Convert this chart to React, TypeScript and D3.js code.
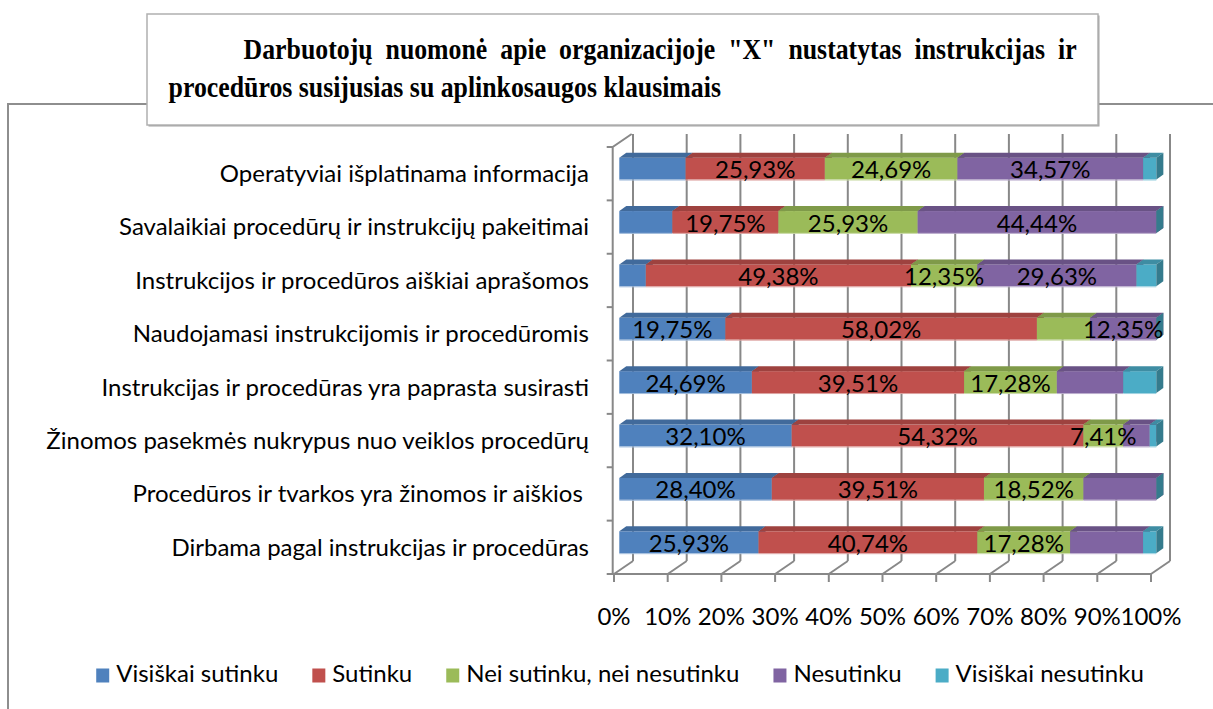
import * as d3 from "d3";
import React, { useRef, useEffect } from "react";

const categories = [
  "Operatyviai išplatinama informacija",
  "Savalaikiai procedūrų ir instrukcijų pakeitimai",
  "Instrukcijos ir procedūros aiškiai aprašomos",
  "Naudojamasi instrukcijomis ir procedūromis",
  "Instrukcijas ir procedūras yra paprasta susirasti",
  "Žinomos pasekmės nukrypus nuo veiklos procedūrų",
  "Procedūros ir tvarkos yra žinomos ir aiškios ",
  "Dirbama pagal instrukcijas ir procedūras",
];

const seriesNames = [
  "Visiškai sutinku",
  "Sutinku",
  "Nei sutinku, nei nesutinku",
  "Nesutinku",
  "Visiškai nesutinku",
];

// values in %, same order as categories
const visiskaiSutinku = [12.35, 9.88, 4.94, 19.75, 24.69, 32.1, 28.4, 25.93];
const sutinku = [25.93, 19.75, 49.38, 58.02, 39.51, 54.32, 39.51, 40.74];
const neiNei = [24.69, 25.93, 12.35, 9.88, 17.28, 7.41, 18.52, 17.28];
const nesutinku = [34.57, 44.44, 29.63, 12.35, 12.35, 4.94, 13.58, 13.58];
const visiskaiNesutinku = [2.47, 0, 3.7, 0, 6.17, 1.23, 0, 2.47];

// which series carry a data label in each row
const labelledSeries = [
  [1, 2, 3],
  [1, 2, 3],
  [1, 2, 3],
  [0, 1, 3],
  [0, 1, 2],
  [0, 1, 2],
  [0, 1, 2],
  [0, 1, 2],
];

const seriesColors = ["#4f81bd", "#c0504d", "#9bbb59", "#8064a2", "#4bacc6"];
const tickValues = [0, 10, 20, 30, 40, 50, 60, 70, 80, 90, 100];

const titleLine1 =
  'Darbuotojų nuomonė apie organizacijoje "X" nustatytas instrukcijas ir';
const titleLine2 = "procedūros susijusias su aplinkosaugos klausimais";

const W = 1213;
const H = 709;
const FONT = "Lato, 'Open Sans', sans-serif";
const SERIF = "'Liberation Serif', 'Times New Roman', serif";

const fmt = (v: number) => v.toFixed(2).replace(".", ",") + "%";

const App = () => {
  const svgRef = useRef<SVGSVGElement>(null);

  useEffect(() => {
    draw();
  }, []);

  const draw = () => {
    if (!svgRef.current) return;
    const svg = d3.select(svgRef.current);
    svg.selectAll("*").remove();

    // chart area frame (only top and left edges are visible)
    svg
      .append("path")
      .attr("d", `M8,${H} V104 H${W}`)
      .attr("fill", "none")
      .attr("stroke", "#8e8e8e")
      .attr("stroke-width", 2);

    // title box
    const tb = { x: 147, y: 14, w: 951, h: 111 };
    svg
      .append("rect")
      .attr("x", tb.x + 1.5)
      .attr("y", tb.y + 1.5)
      .attr("width", tb.w)
      .attr("height", tb.h)
      .attr("fill", "#a3a3a3");
    svg
      .append("rect")
      .attr("x", tb.x)
      .attr("y", tb.y)
      .attr("width", tb.w)
      .attr("height", tb.h)
      .attr("fill", "#fff")
      .attr("stroke", "#b0b0b0")
      .attr("stroke-width", 1.5);

    const sx = 0.86;
    const t1 = svg
      .append("text")
      .attr("transform", `translate(243.6,59) scale(${sx},1)`)
      .attr("font-family", SERIF)
      .attr("font-weight", "bold")
      .attr("font-size", 30)
      .style("white-space", "pre")
      .text(titleLine1);
    const natural = (t1.node() as SVGTextElement).getComputedTextLength();
    const spaces = titleLine1.split(" ").length - 1;
    const target = (1076.6 - 243.6) / sx;
    t1.style("word-spacing", `${(target - natural) / spaces}px`);

    svg
      .append("text")
      .attr("transform", `translate(168.6,96.5) scale(${sx},1)`)
      .attr("font-family", SERIF)
      .attr("font-weight", "bold")
      .attr("font-size", 30)
      .text(titleLine2);

    // plot scales
    const x = d3.scaleLinear().domain([0, 100]).range([614, 1151]);
    const y = d3.scaleBand().domain(categories).range([147, 574]);
    const step = y.step();
    const yFloor = 574;
    const yCeil = 147;
    const depth = { dx: 19, dy: -13 };
    const gridColor = "#888888";

    const grid = svg.append("g").attr("stroke", gridColor).attr("stroke-width", 2).attr("fill", "none");

    // back wall gridlines
    tickValues.forEach((t) => {
      grid
        .append("line")
        .attr("x1", x(t) + depth.dx)
        .attr("x2", x(t) + depth.dx)
        .attr("y1", yFloor + depth.dy)
        .attr("y2", yCeil + depth.dy);
      // floor lines
      grid
        .append("line")
        .attr("x1", x(t))
        .attr("y1", yFloor)
        .attr("x2", x(t) + depth.dx)
        .attr("y2", yFloor + depth.dy);
      // tick marks below the front edge
      grid
        .append("line")
        .attr("x1", x(t))
        .attr("x2", x(t))
        .attr("y1", yFloor)
        .attr("y2", yFloor + 8);
    });

    // front floor edge
    grid
      .append("line")
      .attr("x1", x(0) - 7)
      .attr("x2", x(100))
      .attr("y1", yFloor)
      .attr("y2", yFloor);

    // left wall
    const wx = x(0) - 1.3;
    grid
      .append("path")
      .attr("d", `M${wx},${yFloor} V${yCeil} L${wx + depth.dx},${yCeil + depth.dy}`);
    const bounds = categories.map((c) => y(c)!).concat([yFloor]);
    bounds.forEach((b) => {
      grid
        .append("line")
        .attr("x1", wx - 6)
        .attr("x2", wx)
        .attr("y1", b)
        .attr("y2", b);
    });

    // stacked bars
    const rows = categories.map((c, i) => ({
      category: c,
      s0: visiskaiSutinku[i],
      s1: sutinku[i],
      s2: neiNei[i],
      s3: nesutinku[i],
      s4: visiskaiNesutinku[i],
    }));
    const keys = ["s0", "s1", "s2", "s3", "s4"];
    const stacked = d3.stack<any>().keys(keys)(rows);

    const barShift = 5.3;
    const bd = { dx: 7, dy: -5 };
    const barTop = step * 0.2;
    const barH = step * 0.41;

    const bars = svg.append("g");
    rows.forEach((row, i) => {
      const yt = y(row.category)! + barTop;
      const yb = yt + barH;
      stacked.forEach((layer, s) => {
        const [a, b] = layer[i];
        const x0 = x(a) + barShift;
        const x1 = x(b) + barShift;
        const col = d3.color(seriesColors[s])!;
        bars
          .append("rect")
          .attr("x", x0)
          .attr("y", yt)
          .attr("width", Math.max(0, x1 - x0))
          .attr("height", barH)
          .attr("fill", seriesColors[s]);
        bars
          .append("line")
          .attr("x1", x0)
          .attr("x2", x1)
          .attr("y1", yb + 0.5)
          .attr("y2", yb + 0.5)
          .attr("stroke", d3.interpolateRgb(seriesColors[s], "#ffffff")(0.45))
          .attr("stroke-width", 1);
        bars
          .append("path")
          .attr(
            "d",
            `M${x0},${yt} L${x0 + bd.dx},${yt + bd.dy} L${x1 + bd.dx},${yt + bd.dy} L${x1},${yt} Z`
          )
          .attr("fill", col.darker(0.55).toString());
        bars
          .append("path")
          .attr(
            "d",
            `M${x1},${yt} L${x1 + bd.dx},${yt + bd.dy} L${x1 + bd.dx},${yb + bd.dy} L${x1},${yb} Z`
          )
          .attr("fill", col.darker(0.95).toString());
      });
    });

    // data labels
    const labels = svg
      .append("g")
      .attr("font-family", FONT)
      .attr("font-size", 24)
      .attr("text-anchor", "middle")
      .attr("fill", "#000");
    rows.forEach((row, i) => {
      const yc = y(row.category)! + barTop + barH / 2;
      labelledSeries[i].forEach((s) => {
        const [a, b] = stacked[s][i];
        labels
          .append("text")
          .attr("x", (x(a) + x(b)) / 2 + barShift)
          .attr("y", yc)
          .attr("dy", "0.4em")
          .text(fmt(b - a));
      });
    });

    // category labels
    svg
      .append("g")
      .attr("font-family", FONT)
      .attr("font-size", 24)
      .attr("text-anchor", "end")
      .attr("fill", "#000")
      .selectAll("text")
      .data(categories)
      .join("text")
      .style("white-space", "pre")
      .attr("x", 589)
      .attr("y", (d) => y(d)! + step / 2)
      .attr("dy", "0.35em")
      .text((d) => d);

    // x tick labels
    svg
      .append("g")
      .attr("font-family", FONT)
      .attr("font-size", 24)
      .attr("text-anchor", "middle")
      .attr("fill", "#000")
      .selectAll("text")
      .data(tickValues)
      .join("text")
      .attr("x", (d) => x(d))
      .attr("y", 625)
      .text((d) => `${d}%`);

    // legend
    const legend = svg.append("g").attr("font-family", FONT).attr("font-size", 24);
    const items = seriesNames.map((name, s) => {
      const g = legend.append("g");
      g.append("rect")
        .attr("y", 668.5)
        .attr("width", 13)
        .attr("height", 14)
        .attr("fill", seriesColors[s]);
      const t = g.append("text").attr("x", 20).attr("y", 682).text(name);
      const w = (t.node() as SVGTextElement).getComputedTextLength();
      return { g, w: 20 + w };
    });
    const gap = 34;
    const total = d3.sum(items, (d) => d.w) + gap * (items.length - 1);
    let cx = 620 - total / 2;
    items.forEach((it) => {
      it.g.attr("transform", `translate(${cx},0)`);
      cx += it.w + gap;
    });
  };

  return (
    <svg
      ref={svgRef}
      width={W}
      height={H}
      style={{ position: "absolute", left: 0, top: 0, background: "#fff" }}
    ></svg>
  );
};

export default App;
